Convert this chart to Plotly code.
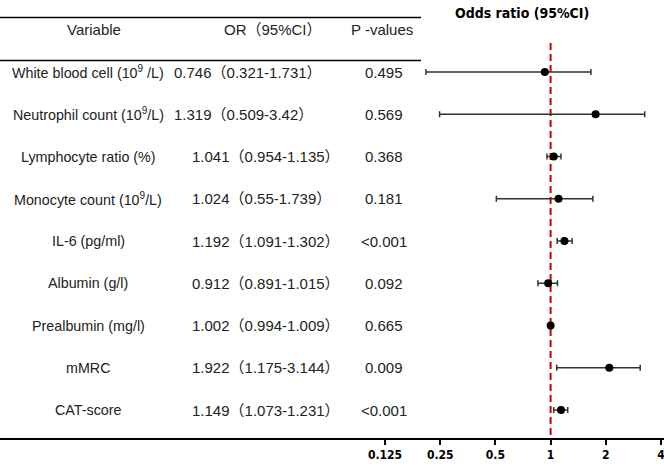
import math
import plotly.graph_objects as go

variables = ["White blood cell (10<sup>9</sup> /L)", "Neutrophil count (10<sup>9</sup>/L)",
             "Lymphocyte ratio (%)", "Monocyte count (10<sup>9</sup>/L)", "IL-6 (pg/ml)",
             "Albumin (g/l)", "Prealbumin (mg/l)", "mMRC", "CAT-score"]
or_text = ["0.746（0.321-1.731）", "1.319（0.509-3.42）", "1.041（0.954-1.135）",
           "1.024（0.55-1.739）", "1.192（1.091-1.302）", "0.912（0.891-1.015）",
           "1.002（0.994-1.009）", "1.922（1.175-3.144）", "1.149（1.073-1.231）"]
p_values = ["0.495", "0.569", "0.368", "0.181", "&lt;0.001", "0.092", "0.665", "0.009", "&lt;0.001"]

# plotted positions as drawn in the figure
est = [0.93, 1.76, 1.04, 1.105, 1.19, 0.97, 1.0, 2.09, 1.14]
lo = [0.209, 0.248, 0.955, 0.506, 1.087, 0.853, 0.99, 1.08, 1.04]
hi = [1.66, 3.26, 1.14, 1.70, 1.31, 1.09, 1.01, 3.08, 1.24]

tickvals = [0.125, 0.25, 0.5, 1, 2, 4]
ticktext = ["0.125", "0.25", "0.5", "1", "2", "4"]

W, H = 664, 468
px_per_doubling = 55.2
x0_px = 385  # pixel of 0.125
left_log2 = math.log2(0.125) - x0_px / px_per_doubling
right_log2 = math.log2(0.125) + (W - x0_px) / px_per_doubling
rng = [left_log2 * math.log10(2), right_log2 * math.log10(2)]

row_top, row_step = 72, 42.25
plot_bottom = 438
y_top = -row_top / row_step
y_bot = (plot_bottom - row_top) / row_step

def ypix(p):
    return (p - row_top) / row_step

rows = list(range(len(variables)))

fig = go.Figure()
fig.add_trace(go.Scatter(
    x=est, y=rows, mode="markers",
    marker=dict(color="black", size=8, symbol="circle"),
    error_x=dict(type="data", symmetric=False,
                 array=[h - e for h, e in zip(hi, est)],
                 arrayminus=[e - l for e, l in zip(est, lo)],
                 color="#333333", thickness=1.5, width=3),
    showlegend=False, hoverinfo="skip"))

base = "Liberation Sans, Arial, Noto Sans CJK SC, sans-serif"
font_txt = dict(family=base, size=15, color="#222222")
font_var = dict(family=base, size=14.3, color="#222222")
narrow = "Liberation Sans Narrow, DejaVu Sans Condensed, Roboto Condensed, Liberation Sans, sans-serif"
ann = []
for i in rows:
    ann.append(dict(x=88 / W, xref="paper", y=i, yref="y", text=variables[i], showarrow=False,
                    xanchor="center", yanchor="middle", font=font_var))
    ann.append(dict(x=(172 if i < 2 else 190) / W, xref="paper", y=i, yref="y", text=or_text[i],
                    showarrow=False, xanchor="left", yanchor="middle", font=font_txt))
    ann.append(dict(x=384 / W, xref="paper", y=i, yref="y", text=p_values[i], showarrow=False,
                    xanchor="center", yanchor="middle", font=font_txt))

hdr_y = ypix(29)
ann.append(dict(x=94 / W, xref="paper", y=hdr_y, yref="y", text="Variable", showarrow=False,
                xanchor="center", yanchor="middle", font=font_txt))
ann.append(dict(x=273 / W, xref="paper", y=hdr_y, yref="y", text="OR（95%CI）", showarrow=False,
                xanchor="center", yanchor="middle", font=font_txt))
ann.append(dict(x=382 / W, xref="paper", y=hdr_y, yref="y", text="P -values", showarrow=False,
                xanchor="center", yanchor="middle", font=font_txt))
ann.append(dict(x=522 / W, xref="paper", y=ypix(13), yref="y", text="Odds ratio (95%CI)",
                showarrow=False, xanchor="center", yanchor="middle",
                font=dict(family=narrow, size=14, color="black", weight="bold")))

shapes = [
    dict(type="line", xref="paper", yref="y", x0=0, x1=421 / W, y0=ypix(17.5), y1=ypix(17.5),
         line=dict(color="black", width=1.5)),
    dict(type="line", xref="paper", yref="y", x0=0, x1=421 / W, y0=ypix(60.5), y1=ypix(60.5),
         line=dict(color="black", width=1.5)),
    dict(type="line", xref="x", yref="y", x0=1, x1=1, y0=ypix(43), y1=y_bot,
         line=dict(color="#cc0000", width=2, dash="7px,4px"), layer="below"),
]

fig.update_layout(
    width=W, height=H, margin=dict(l=0, r=0, t=0, b=H - plot_bottom),
    plot_bgcolor="white", paper_bgcolor="white",
    xaxis=dict(type="log", range=rng, tickvals=tickvals, ticktext=ticktext,
               showgrid=False, zeroline=False, showline=True, linecolor="black", linewidth=2,
               ticks="outside", ticklen=5, tickwidth=2, tickcolor="black",
               ticklabeloverflow="allow",
               tickfont=dict(family=narrow, size=12, color="black", weight="bold"),
               fixedrange=True),
    yaxis=dict(range=[y_bot, y_top], visible=False, fixedrange=True),
    annotations=ann, shapes=shapes,
)
fig.write_html("out.html")
